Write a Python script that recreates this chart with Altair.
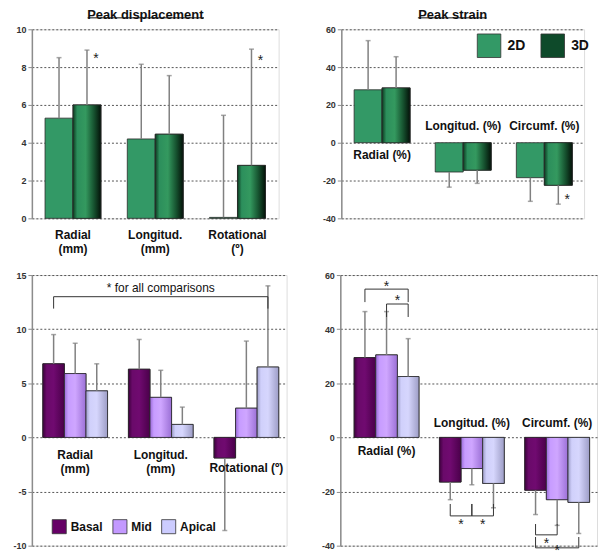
import altair as alt
import pandas as pd

FONT = "Liberation Sans"

# ---------------- data ----------------
# Top-left: Peak displacement, 2D vs 3D
d_cats = ["Radial", "Longitud.", "Rotational"]
d_labels = ["Radial\n(mm)", "Longitud.\n(mm)", "Rotational\n(º)"]
d_label_y = [-0.6, -0.6, -0.6]
d_series = ["2D", "3D"]
d_2d = [5.3, 4.2, 0.05]
d_2d_end = [8.5, 8.15, 5.45]
d_3d = [6.0, 4.45, 2.8]
d_3d_end = [8.9, 7.55, 8.95]
d_star_cat = ["Radial", "Rotational"]
d_star_series = ["3D", "3D"]
d_star_y = [8.45, 8.3]

# Top-right: Peak strain, 2D vs 3D
s_cats = ["Radial", "Longitud.", "Circumf."]
s_labels = ["Radial (%)", "Longitud. (%)", "Circumf. (%)"]
s_label_y = [-3.7, 11.6, 11.6]
s_series = ["2D", "3D"]
s_2d = [28, -15.5, -18.5]
s_2d_end = [54, -23.5, -31]
s_3d = [29, -14.5, -22.5]
s_3d_end = [45.5, -21.5, -32.5]
s_star_cat = ["Circumf."]
s_star_series = ["3D"]
s_star_y = [-30.5]

# Bottom-left: displacement by level
r_cats = ["Radial", "Longitud.", "Rotational"]
r_labels = ["Radial\n(mm)", "Longitud.\n(mm)", "Rotational (º)"]
r_label_y = [-1.2, -1.2, -2.4]
r_series = ["Basal", "Mid", "Apical"]
r_basal = [6.8, 6.3, -1.9]
r_basal_end = [9.5, 9.05, -8.6]
r_mid = [5.9, 3.7, 2.7]
r_mid_end = [8.7, 6.2, 8.9]
r_apical = [4.3, 1.2, 6.5]
r_apical_end = [6.8, 2.8, 14.0]
r_bracket_cat = [("Radial", "Rotational")]
r_bracket_series = [("Basal", "Apical")]
r_bracket_y = [(13.0, 11.9)]
r_note = "* for all comparisons"
r_note_cat = "Longitud."
r_note_y = 13.8

# Bottom-right: strain by level
t_cats = ["Radial", "Longitud.", "Circumf."]
t_labels = ["Radial (%)", "Longitud. (%)", "Circumf. (%)"]
t_label_y = [-3.3, 7.0, 7.0]
t_series = ["Basal", "Mid", "Apical"]
t_basal = [29.5, -16.5, -19.5]
t_basal_end = [46.5, -23, -28.5]
t_mid = [30.5, -11.5, -23]
t_mid_end = [46.5, -17.5, -32.5]
t_apical = [22.5, -17, -24]
t_apical_end = [36.5, -26, -35.5]
t_bracket_cat = ["Radial", "Radial", "Longitud.", "Longitud.", "Circumf.", "Circumf."]
t_bracket_series = [("Basal", "Apical"), ("Mid", "Apical"), ("Basal", "Mid"),
                    ("Mid", "Apical"), ("Basal", "Mid"), ("Basal", "Apical")]
t_bracket_y = [(54.8, 50.0), (49.3, 44.5), (-29.0, -24.6), (-29.0, -24.6),
               (-36.0, -32.0), (-40.8, -36.8)]
# stars centred on a bar
t_star_c_cat = ["Radial", "Circumf."]
t_star_c_series = ["Mid", "Mid"]
t_star_c_y = [55.5, -41.9]
# stars between a bar and the next one
t_star_b_cat = ["Radial", "Longitud.", "Longitud.", "Circumf."]
t_star_b_series = ["Mid", "Basal", "Mid", "Basal"]
t_star_b_y = [50.4, -32.4, -32.4, -39.3]


def grad(edge_l, mid, edge_r, mid2=None):
    stops = [
        {"offset": 0.0, "color": edge_l},
        {"offset": 0.18, "color": mid},
        {"offset": 0.5, "color": mid2 or mid},
        {"offset": 1.0, "color": edge_r},
    ]
    return {"gradient": "linear", "x1": 0, "x2": 1, "y1": 0, "y2": 0, "stops": stops}


GRAD_3D = {"gradient": "linear", "x1": 0, "x2": 1, "y1": 0, "y2": 0,
           "stops": [{"offset": 0.0, "color": "#0c3a20"},
                     {"offset": 0.15, "color": "#2c8f5c"},
                     {"offset": 0.45, "color": "#34995f"},
                     {"offset": 0.75, "color": "#16522f"},
                     {"offset": 1.0, "color": "#031108"}]}
GRAD_BASAL = grad("#3d003d", "#6a0a6a", "#4a004a", "#700a70")
GRAD_MID = grad("#9a6ad8", "#c79cff", "#9b70d6", "#cfa6ff")
GRAD_APICAL = grad("#9c9cc8", "#d0d0fb", "#9d9dc6", "#d6d6fd")

AX_GRAY = "#8c8c8c"
INK = "#222222"


def panel(cats, labels, label_y, series, vals, ends, ydom, yticks, width, height,
          xdom, group, colors, grads, legend, stars_c=None, stars_b=None, star_dx=0.0,
          brackets=None, note=None, title=None, title_dx=0, underline=None):
    n = len(series)
    bw = group / n
    ci_of = {c: i for i, c in enumerate(cats)}
    si_of = {s: i for i, s in enumerate(series)}
    rows = []
    for si, s in enumerate(series):
        for ci, c in enumerate(cats):
            rows.append({"cat": c, "ci": ci, "series": s, "si": si,
                         "value": vals[si][ci], "end": ends[si][ci]})
    df = pd.DataFrame(rows)

    # bar edges / centres computed by Vega from category & series index
    left = f"datum.ci - {group / 2} + datum.si * {bw}"
    centre = f"datum.ci - {group / 2} + (datum.si + 0.5) * {bw}"
    bound = f"datum.ci - {group / 2} + (datum.si + 1) * {bw}"

    xoff_px = -height * (0 - ydom[0]) / (ydom[1] - ydom[0])
    xscale = alt.Scale(domain=xdom, nice=False, zero=False)
    nb = len(cats)

    def X(field, axis=False):
        return alt.X(field, type="quantitative", scale=xscale,
                     axis=alt.Axis(labels=False, title=None, grid=False, domainColor=AX_GRAY,
                                   domainWidth=1.5, tickColor=AX_GRAY, tickSize=4,
                                   values=[i - 0.5 for i in range(nb + 1)],
                                   offset=xoff_px) if axis else None)

    def Y(field):
        return alt.Y(field, type="quantitative",
                     scale=alt.Scale(domain=ydom, nice=False, zero=False),
                     axis=alt.Axis(values=yticks, title=None, grid=True, gridDash=[2, 2],
                                   gridColor="#555555", gridWidth=1, labelFontWeight="bold",
                                   labelFontSize=9, labelColor="#333333", labelFont=FONT,
                                   labelExpr="'' + datum.value", domainColor=AX_GRAY,
                                   domainWidth=1.5, tickColor=AX_GRAY, tickSize=4,
                                   labelPadding=2))

    base = alt.Chart(df).transform_calculate(x0=left, xm=centre, x1=f"{left} + {bw}")
    layers = [
        base.mark_bar(stroke="#2a2a2a", strokeWidth=0.8).encode(
            x=X("x0", True), x2="x1:Q", y=Y("value"), y2=alt.datum(0),
            color=alt.Color("series:N", sort=series,
                            scale=alt.Scale(domain=series, range=colors), legend=legend)),
    ]
    for s, g in grads:
        layers.append(base.transform_filter(alt.datum.series == s)
                      .mark_bar(fill=g, stroke="#2a2a2a", strokeWidth=0.8)
                      .encode(x=X("x0"), x2="x1:Q", y=Y("value"), y2=alt.datum(0)))
    layers.append(base.mark_rule(color="#808080", strokeWidth=1.5).encode(
        x=X("xm"), y=Y("value"), y2="end:Q"))
    layers.append(base.mark_tick(color="#808080", size=5, thickness=1.5, orient="horizontal").encode(
        x=X("xm"), y=Y("end")))

    lab = pd.DataFrame({"cat": cats, "ci": list(range(nb)), "label": labels, "y": label_y})
    layers.append(alt.Chart(lab).mark_text(baseline="top", fontWeight="bold", fontSize=12,
                                           font=FONT, lineBreak="\n", lineHeight=14,
                                           fill="#111111").encode(
        x=X("ci"), y=Y("y"), text="label:N"))

    if brackets:
        brow = []
        for bi, (c, (sa, sb), (yl, ye)) in enumerate(brackets):
            c1, c2 = (c if isinstance(c, tuple) else (c, c))
            brow += [{"id": bi, "o": 0, "ci": ci_of[c1], "si": si_of[sa], "y": ye},
                     {"id": bi, "o": 1, "ci": ci_of[c1], "si": si_of[sa], "y": yl},
                     {"id": bi, "o": 2, "ci": ci_of[c2], "si": si_of[sb], "y": yl},
                     {"id": bi, "o": 3, "ci": ci_of[c2], "si": si_of[sb], "y": ye}]
        layers.append(alt.Chart(pd.DataFrame(brow)).transform_calculate(xm=centre)
                      .mark_line(color="#333333", strokeWidth=1).encode(
            x=X("xm"), y=Y("y"), detail="id:N", order="o:Q"))

    if stars_c:
        sdf = pd.DataFrame({"ci": [ci_of[c] for c in stars_c[0]],
                            "si": [si_of[s] for s in stars_c[1]], "y": stars_c[2]})
        layers.append(alt.Chart(sdf).transform_calculate(xm=centre)
                      .mark_text(text="*", fontSize=14, font=FONT, dx=star_dx,
                                 baseline="middle", fill=INK).encode(
            x=X("xm"), y=Y("y")))
    if stars_b:
        sdf = pd.DataFrame({"ci": [ci_of[c] for c in stars_b[0]],
                            "si": [si_of[s] for s in stars_b[1]], "y": stars_b[2]})
        layers.append(alt.Chart(sdf).transform_calculate(xb=bound)
                      .mark_text(text="*", fontSize=14, font=FONT,
                                 baseline="middle", fill=INK).encode(
            x=X("xb"), y=Y("y")))

    if note:
        ndf = pd.DataFrame({"ci": [ci_of[note[1]]], "text": [note[0]], "y": [note[2]]})
        layers.append(alt.Chart(ndf).mark_text(fontSize=12, font=FONT, baseline="middle",
                                               fill="#111111").encode(
            x=X("ci"), y=Y("y"), text="text:N"))

    if underline:
        layers.append(alt.Chart(alt.Data(values=[{}])).mark_rule(color="#111111", strokeWidth=1).encode(
            x=alt.value(underline[0]), x2=alt.value(underline[1]), y=alt.value(underline[2])))

    ch = alt.layer(*layers).properties(width=width, height=height)
    if title:
        ch = ch.properties(title=alt.TitleParams(title, fontSize=13, fontWeight="bold", font=FONT,
                                                 color="#111111", offset=-5, dx=title_dx,
                                                 anchor="middle"))
    return ch


tl = panel(d_cats, d_labels, d_label_y, d_series, [d_2d, d_3d], [d_2d_end, d_3d_end],
           [0, 10], [0, 2, 4, 6, 8, 10], 248, 190, [-0.5, 2.5], 0.68,
           ["#339966", "#0e4a2a"], [("3D", GRAD_3D)], None,
           stars_c=(d_star_cat, d_star_series, d_star_y), star_dx=9,
           title="Peak displacement", title_dx=-10, underline=(56, 173, -11.5))

tr_legend = alt.Legend(orient="none", legendX=136, legendY=4, direction="horizontal", title=None,
                       symbolType="square", symbolSize=560, symbolStrokeColor="#333333",
                       symbolStrokeWidth=0.8, labelFontSize=14, labelFontWeight="bold",
                       labelFont=FONT, labelColor="#111111", columnPadding=14, labelOffset=6,
                       symbolOpacity=1)
tr = panel(s_cats, s_labels, s_label_y, s_series, [s_2d, s_3d], [s_2d_end, s_3d_end],
           [-40, 60], [-40, -20, 0, 20, 40, 60], 244, 190, [-0.503, 2.49], 0.69,
           ["#339966", "#0e4a2a"], [("3D", GRAD_3D)], tr_legend,
           stars_c=(s_star_cat, s_star_series, s_star_y), star_dx=9,
           title="Peak strain", title_dx=-10, underline=(77, 146, -11.5))

bl_legend = alt.Legend(orient="none", legendX=20, legendY=245, direction="horizontal", title=None,
                       symbolType="square", symbolSize=200, symbolStrokeColor="#333333",
                       symbolStrokeWidth=0.8, labelFontSize=12, labelFontWeight="bold",
                       labelFont=FONT, labelColor="#111111", columnPadding=7, labelOffset=4,
                       symbolOpacity=1)
bl = panel(r_cats, r_labels, r_label_y, r_series, [r_basal, r_mid, r_apical],
           [r_basal_end, r_mid_end, r_apical_end],
           [-10, 15], [-10, -5, 0, 5, 10, 15], 256, 272, [-0.506, 2.47], 0.756,
           ["#660066", "#c399ff", "#ccccff"],
           [("Basal", GRAD_BASAL), ("Mid", GRAD_MID), ("Apical", GRAD_APICAL)], bl_legend,
           brackets=list(zip(r_bracket_cat, r_bracket_series, r_bracket_y)),
           note=(r_note, r_note_cat, r_note_y))

br = panel(t_cats, t_labels, t_label_y, t_series, [t_basal, t_mid, t_apical],
           [t_basal_end, t_mid_end, t_apical_end],
           [-40, 60], [-40, -20, 0, 20, 40, 60], 258, 272, [-0.542, 2.467], 0.76,
           ["#660066", "#c399ff", "#ccccff"],
           [("Basal", GRAD_BASAL), ("Mid", GRAD_MID), ("Apical", GRAD_APICAL)], None,
           brackets=list(zip(t_bracket_cat, t_bracket_series, t_bracket_y)),
           stars_c=(t_star_c_cat, t_star_c_series, t_star_c_y),
           stars_b=(t_star_b_cat, t_star_b_series, t_star_b_y))

top = alt.hconcat(tl, tr, spacing=63, bounds="flush").resolve_scale(color="independent")
bottom = alt.hconcat(bl, br, spacing=54, bounds="flush").resolve_scale(color="independent")
chart = (alt.vconcat(top, bottom, spacing=15)
         .resolve_scale(color="independent")
         .properties(padding={"left": 4, "top": -1, "right": 0, "bottom": 0})
         .configure_view(stroke=None)
         .configure(font=FONT, background="white"))

chart.save("out.html", embed_options={"renderer": "svg", "actions": False})
